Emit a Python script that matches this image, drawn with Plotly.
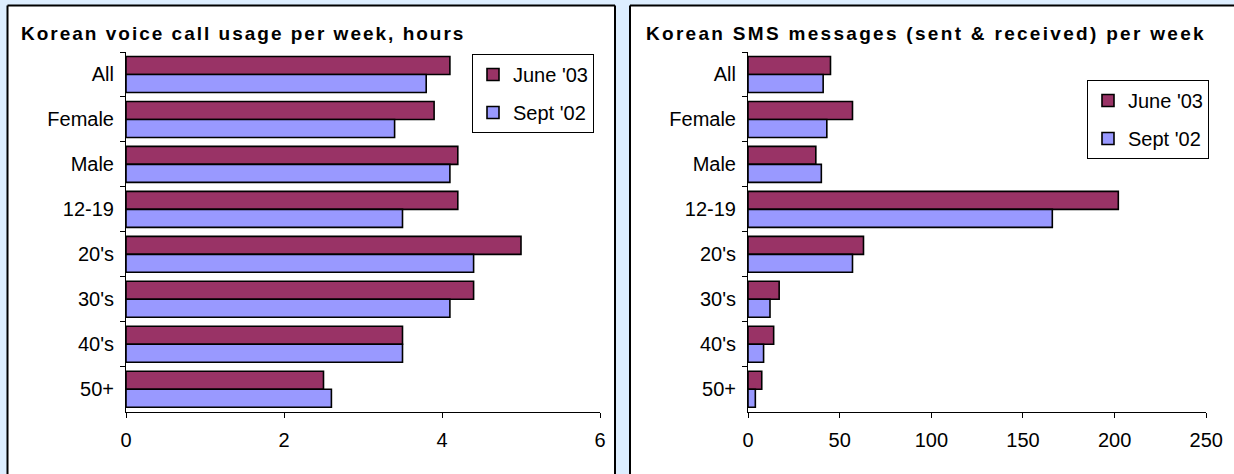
import plotly.graph_objects as go

W, H = 1234, 474

categories = ["All", "Female", "Male", "12-19", "20's", "30's", "40's", "50+"]
voice_june03 = [4.1, 3.9, 4.2, 4.2, 5.0, 4.4, 3.5, 2.5]
voice_sept02 = [3.8, 3.4, 4.1, 3.5, 4.4, 4.1, 3.5, 2.6]
sms_june03 = [45, 57, 37, 202, 63, 17, 14, 7.5]
sms_sept02 = [41, 43, 40, 166, 57, 12, 8.5, 4]
series_names = ["June '03", "Sept '02"]
colors = ["#993366", "#9999FF"]
voice_title = "Korean voice call usage per week, hours"
sms_title = "Korean SMS messages (sent & received) per week"

FONT = "Arial, Liberation Sans, sans-serif"

def px_x(p):
    return p / W

def px_y(p):
    return 1 - p / H

fig = go.Figure()

for vals, name, col in [(voice_june03, series_names[0], colors[0]),
                        (voice_sept02, series_names[1], colors[1])]:
    fig.add_trace(go.Bar(y=categories, x=vals, orientation="h", name=name,
                         marker=dict(color=col, line=dict(color="black", width=1.6)),
                         xaxis="x", yaxis="y", legend="legend", legendgroup=name))
for vals, name, col in [(sms_june03, series_names[0], colors[0]),
                        (sms_sept02, series_names[1], colors[1])]:
    fig.add_trace(go.Bar(y=categories, x=vals, orientation="h", name=name,
                         marker=dict(color=col, line=dict(color="black", width=1.6)),
                         xaxis="x2", yaxis="y2", legend="legend2", legendgroup=name))

ydom = [px_y(411.7), px_y(52)]
common_x = dict(showgrid=False, zeroline=False, showline=True, linecolor="black", linewidth=1,
                ticks="outside", ticklen=5, tickcolor="black", automargin=False,
                tickfont=dict(family=FONT, size=20, color="black"), ticklabelstandoff=5)
common_y = dict(type="category", autorange="reversed", showgrid=False, zeroline=False,
                showline=True, linecolor="black", linewidth=1, ticks="outside", ticklen=5,
                tickcolor="black", tickson="boundaries", automargin=False,
                tickfont=dict(family=FONT, size=20, color="black"), ticklabelstandoff=7)

legend_common = dict(bgcolor="white", bordercolor="black", borderwidth=1,
                     font=dict(family=FONT, size=20, color="black"),
                     traceorder="grouped", tracegroupgap=9,
                     xanchor="left", yanchor="top")

def pline(x0, y0, x1, y1):
    return dict(type="line", xref="paper", yref="paper",
                x0=px_x(x0), x1=px_x(x1), y0=px_y(y0), y1=px_y(y1),
                line=dict(color="black", width=2), layer="below")

# panels kept strictly inside the page so nothing overflows
panels = [
    dict(type="rect", xref="paper", yref="paper", x0=px_x(7.5), x1=px_x(615), y0=0, y1=px_y(5.5),
         line=dict(width=0), fillcolor="white", layer="below"),
    pline(7.5, 5.5, 7.5, 474), pline(7.5, 5.5, 615, 5.5), pline(615, 5.5, 615, 474),
    dict(type="rect", xref="paper", yref="paper", x0=px_x(630), x1=1, y0=0, y1=px_y(5.5),
         line=dict(width=0), fillcolor="white", layer="below"),
    pline(630, 5.5, 630, 474), pline(630, 5.5, 1234, 5.5),
]

fig.update_layout(
    width=W, height=H, autosize=False,
    margin=dict(l=0, r=0, t=0, b=0, autoexpand=False),
    paper_bgcolor="#DDEEFF",
    plot_bgcolor="white",
    barmode="group", bargap=0.2, bargroupgap=0,
    xaxis=dict(domain=[px_x(126), px_x(600)], range=[0, 6], dtick=2, anchor="y", **common_x),
    yaxis=dict(domain=ydom, anchor="x", **common_y),
    xaxis2=dict(domain=[px_x(748), px_x(1206.3)], range=[0, 250], dtick=50, anchor="y2", **common_x),
    yaxis2=dict(domain=ydom, anchor="x2", **common_y),
    legend=dict(x=px_x(472), y=px_y(54), **legend_common),
    legend2=dict(x=px_x(1087), y=px_y(80), **legend_common),
    shapes=panels,
    annotations=[
        dict(text="<b><span style='letter-spacing:2px'>" + voice_title + "</span></b>",
             xref="paper", yref="paper", x=px_x(19), y=px_y(33), xanchor="left", yanchor="middle",
             showarrow=False, font=dict(family=FONT, size=19, color="black")),
        dict(text="<b><span style='letter-spacing:2.3px'>" + sms_title.replace("&", "&amp;") + "</span></b>",
             xref="paper", yref="paper", x=px_x(644), y=px_y(33), xanchor="left", yanchor="middle",
             showarrow=False, font=dict(family=FONT, size=19, color="black")),
    ],
)

fig.write_html("out.html", config={"displayModeBar": False, "responsive": False},
               post_script="document.body.style.margin='0';document.body.style.overflow='hidden';")
